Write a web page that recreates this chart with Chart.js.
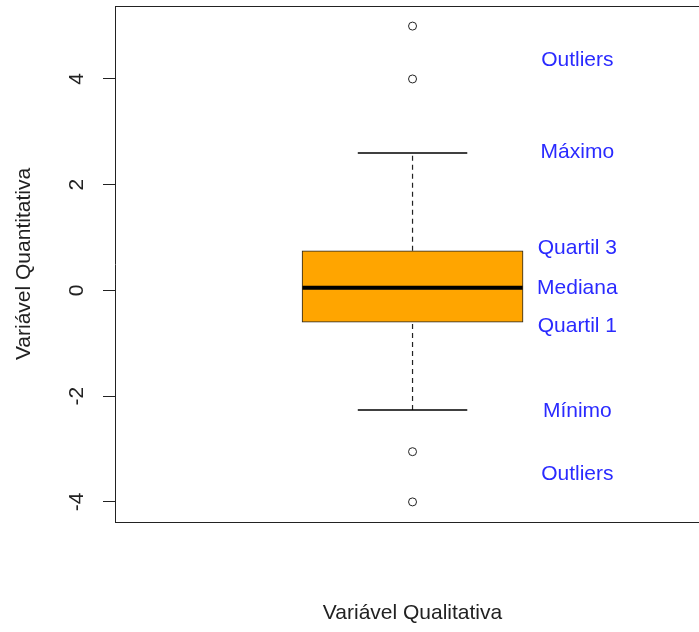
<!DOCTYPE html>
<html>
<head>
<meta charset="utf-8">
<script src="https://cdn.jsdelivr.net/npm/chart.js@4/dist/chart.umd.min.js"></script>
<style>
  body { margin: 0; background: #fff; }
  canvas { display: block; }
</style>
</head>
<body>
<canvas id="boxChart" width="699" height="632"></canvas>
<script>
const boxPosition = 1
const boxHalfWidth = 0.185
const capHalfWidth = 0.092

const stats = { min: -2.26, q1: -0.6, median: 0.05, q3: 0.75, max: 2.6 }
const outliers = [5.0, 4.0, -3.05, -4.0]

const yTicks = [-4, -2, 0, 2, 4]

const noteLabels = ['Outliers', 'Máximo', 'Quartil 3', 'Mediana', 'Quartil 1', 'Mínimo', 'Outliers']
const noteValues = [4.36, 2.62, 0.79, 0.05, -0.68, -2.28, -3.47]
const noteX = 1.277

const xTitle = 'Variável Qualitativa'
const yTitle = 'Variável Quantitativa'

const font = '"Liberation Sans", Arial, sans-serif'

function hline(y, x1, x2, width, dash) {
  return {
    type: 'line',
    data: [{ x: x1, y: y }, { x: x2, y: y }],
    borderColor: '#000',
    borderWidth: width,
    borderDash: dash || [],
    pointRadius: 0,
    order: 0
  }
}

function vline(x, y1, y2, width, dash) {
  return {
    type: 'line',
    data: [{ x: x, y: y1 }, { x: x, y: y2 }],
    borderColor: '#222',
    borderWidth: width,
    borderDash: dash || [],
    pointRadius: 0,
    order: 2
  }
}

const textPlugin = {
  id: 'texts',
  afterDraw(chart) {
    const ctx = chart.ctx
    const area = chart.chartArea
    const xs = chart.scales.x
    const ys = chart.scales.y

    ctx.save()
    ctx.strokeStyle = '#222'
    ctx.lineWidth = 1
    ctx.beginPath()
    ctx.moveTo(area.left, area.top + 0.5)
    ctx.lineTo(chart.width, area.top + 0.5)
    ctx.moveTo(area.left, area.bottom + 0.5)
    ctx.lineTo(chart.width, area.bottom + 0.5)
    ctx.stroke()

    ctx.font = '21px ' + font
    ctx.textAlign = 'center'
    ctx.textBaseline = 'middle'

    ctx.fillStyle = '#2a2aff'
    noteLabels.forEach((t, i) => {
      ctx.fillText(t, xs.getPixelForValue(noteX), ys.getPixelForValue(noteValues[i]))
    })

    ctx.fillStyle = '#222'
    yTicks.forEach(v => {
      ctx.save()
      ctx.translate(77, ys.getPixelForValue(v))
      ctx.rotate(-Math.PI / 2)
      ctx.fillText(String(v), 0, 0)
      ctx.restore()
    })

    ctx.fillText(xTitle, xs.getPixelForValue(boxPosition), 613)

    ctx.save()
    ctx.translate(24, (area.top + area.bottom) / 2)
    ctx.rotate(-Math.PI / 2)
    ctx.fillText(yTitle, 0, 0)
    ctx.restore()
    ctx.restore()
  }
}

const ctx = document.getElementById('boxChart').getContext('2d')
const chart = new Chart(ctx, {
  type: 'bar',
  data: {
    datasets: [
      {
        type: 'bar',
        data: [{ x: boxPosition, y: [stats.q1, stats.q3] }],
        backgroundColor: '#ffa500',
        borderColor: '#222',
        borderWidth: 1,
        borderSkipped: false,
        barThickness: 221,
        order: 1
      },
      hline(stats.median, boxPosition - boxHalfWidth, boxPosition + boxHalfWidth, 4),
      vline(boxPosition, stats.q3, stats.max, 1.2, [5, 4]),
      vline(boxPosition, stats.min, stats.q1, 1.2, [5, 4]),
      hline(stats.max, boxPosition - capHalfWidth, boxPosition + capHalfWidth, 1.5),
      hline(stats.min, boxPosition - capHalfWidth, boxPosition + capHalfWidth, 1.5),
      {
        type: 'scatter',
        data: outliers.map(v => ({ x: boxPosition, y: v })),
        pointRadius: 4,
        pointBackgroundColor: '#fff',
        pointBorderColor: '#222',
        pointBorderWidth: 1,
        order: 0
      }
    ]
  },
  options: {
    responsive: false,
    animation: false,
    events: [],
    layout: { padding: { top: 6, right: 0, left: 0, bottom: 0 } },
    plugins: {
      legend: { display: false },
      tooltip: { enabled: false }
    },
    scales: {
      x: {
        type: 'linear',
        offset: false,
        min: 0.5,
        max: 1.473,
        grid: { display: false },
        ticks: { display: false },
        border: { display: false },
        afterFit: s => { s.height = 110 }
      },
      y: {
        type: 'linear',
        min: -4.38,
        max: 5.38,
        afterBuildTicks: s => { s.ticks = yTicks.map(v => ({ value: v })) },
        grid: { drawOnChartArea: false, drawTicks: true, tickLength: 12, color: '#222' },
        ticks: { display: false },
        border: { display: true, color: '#222', width: 1 },
        afterFit: s => { s.width = 115 }
      }
    }
  },
  plugins: [textPlugin]
});
</script>
</body>
</html>
